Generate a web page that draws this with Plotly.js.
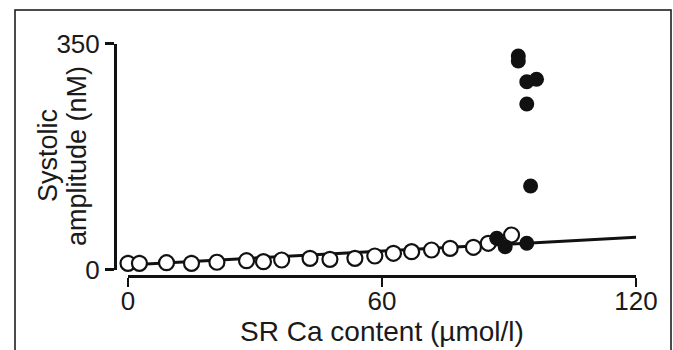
<!DOCTYPE html>
<html>
<head>
<meta charset="utf-8">
<script src="https://cdn.plot.ly/plotly-3.0.1.min.js"></script>
<style>
  html, body { margin: 0; padding: 0; background: #fff; }
  #chart { width: 673px; height: 350px; }
</style>
</head>
<body>
<div id="chart"></div>
<script>
// SR Ca content (µmol/l) vs systolic Ca amplitude (nM)
// Open circles: control run; filled circles: after the threshold is reached
var openX = [0, 2.7, 9.1, 15.0, 21.0, 28.0, 32.0, 36.3, 43.0, 47.7, 53.6, 58.3, 62.7, 67.0, 71.7, 76.1, 81.6, 85.1, 90.6];
var openY = [9.6, 9.6, 10.5, 9.6, 11.2, 13.6, 12.1, 14.7, 17.3, 15.8, 17.3, 20.9, 25.1, 27.6, 30.2, 32.8, 34.4, 40.6, 53.4];

var filledX = [87.1, 89.1, 94.2, 92.2, 92.2, 94.2, 96.5, 94.2, 95.1];
var filledY = [48.3, 35.3, 40.6, 330.6, 322.9, 290.8, 294.6, 256.3, 129.3];

// Linear fit through the control points
var fitX = [0, 120];
var fitY = [7, 50];

var xTicks = [0, 60, 120];
var yTicks = [0, 350];
var yTitleLines = ['Systolic', 'amplitude (nM)'];

var ink = '#111111';
var textInk = '#1a1a1a';
var font = 'Liberation Sans, Arial, Helvetica, sans-serif';

var traces = [
  {
    x: fitX, y: fitY, type: 'scatter', mode: 'lines',
    line: { color: ink, width: 3 }, cliponaxis: false, hoverinfo: 'skip'
  },
  {
    x: openX, y: openY, type: 'scatter', mode: 'markers',
    marker: { symbol: 'circle', size: 15, color: '#ffffff', line: { color: ink, width: 2.2 } },
    cliponaxis: false
  },
  {
    x: filledX, y: filledY, type: 'scatter', mode: 'markers',
    marker: { symbol: 'circle', size: 15, color: ink, line: { color: ink, width: 0 } },
    cliponaxis: false
  }
];

// Two-line rotated y title, lines set close together
var yTitleX = [48, 77];
var annotations = yTitleLines.map(function (t, i) {
  return {
    text: t, textangle: -90, showarrow: false,
    xref: 'paper', yref: 'paper',
    x: (yTitleX[i] - 100) / 550, y: (290 - 156) / 250,
    xanchor: 'center', yanchor: 'middle',
    font: { size: 27, family: font, color: textInk }
  };
});

var layout = {
  width: 673, height: 350,
  margin: { l: 100, r: 23, t: 40, b: 60 },
  paper_bgcolor: '#ffffff', plot_bgcolor: 'rgba(0,0,0,0)',
  showlegend: false,
  font: { family: font, color: textInk },
  xaxis: {
    range: [0, 120],
    domain: [28 / 550, 536 / 550],
    anchor: 'free', position: 14 / 250,
    showline: true, linecolor: ink, linewidth: 2.5,
    showgrid: false, zeroline: false,
    ticks: 'outside', ticklen: 9, tickwidth: 2.5, tickcolor: ink,
    ticklabelstandoff: -8,
    tickmode: 'array', tickvals: xTicks, ticktext: xTicks.map(String),
    tickfont: { size: 26, family: font, color: textInk },
    title: { text: 'SR Ca content (µmol/l)', font: { size: 28, family: font, color: textInk }, standoff: 6 }
  },
  yaxis: {
    range: [0, 350],
    domain: [20.5 / 250, 246.5 / 250],
    anchor: 'free', position: 15 / 550,
    showline: true, linecolor: ink, linewidth: 2.5,
    showgrid: false, zeroline: false,
    ticks: 'outside', ticklen: 9, tickwidth: 2.5, tickcolor: ink,
    ticklabelstandoff: 0,
    tickmode: 'array', tickvals: yTicks, ticktext: yTicks.map(String),
    tickfont: { size: 26, family: font, color: textInk }
  },
  annotations: annotations,
  shapes: [
    {
      type: 'rect', xref: 'paper', yref: 'paper',
      x0: -85 / 550, x1: 571 / 550, y0: -70 / 250, y1: 280 / 250,
      line: { color: ink, width: 1.5 }, fillcolor: 'rgba(0,0,0,0)', layer: 'below'
    }
  ]
};

Plotly.newPlot('chart', traces, layout, { staticPlot: true, displayModeBar: false });
</script>
</body>
</html>
